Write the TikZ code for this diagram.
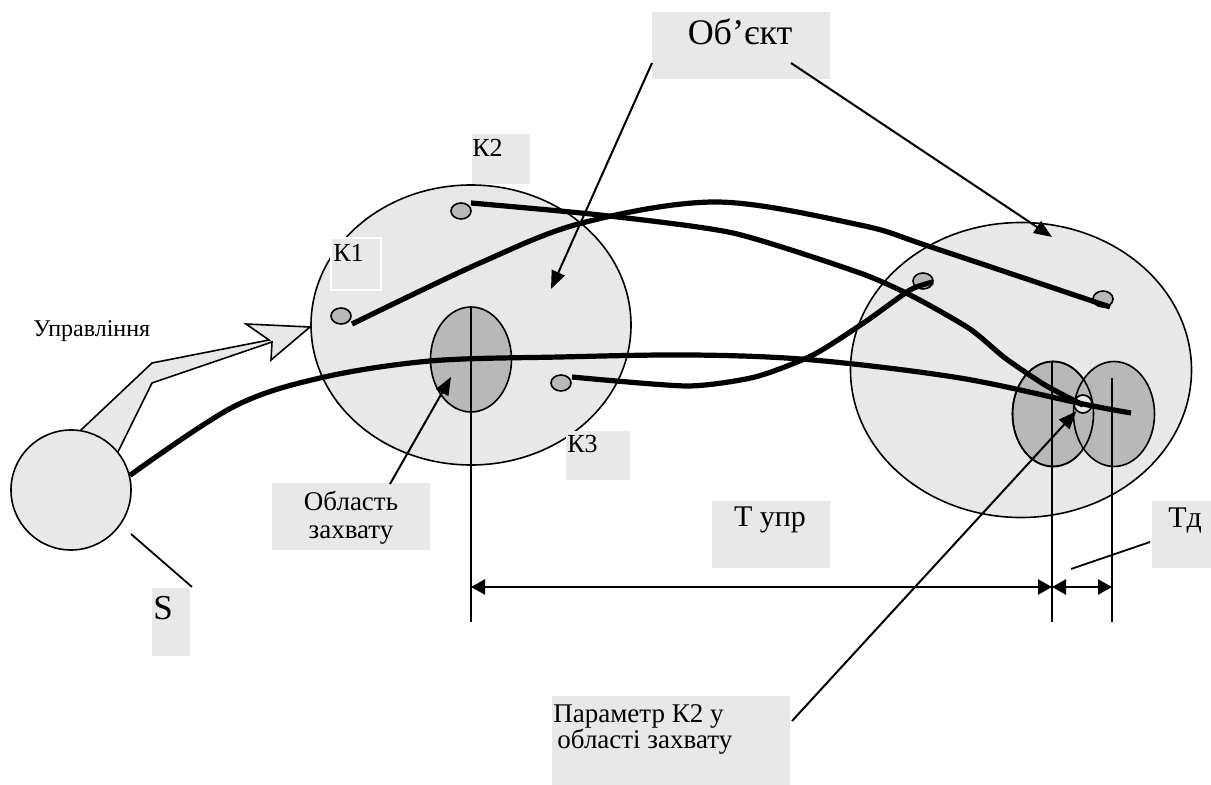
\documentclass[tikz,border=0pt]{standalone}
\usepackage{fontspec}
\setmainfont{Liberation Serif}
\newfontfamily\lserif{Liberation Serif}
\usetikzlibrary{shapes.geometric,arrows.meta}
\definecolor{pale}{HTML}{E8E8E8}
\definecolor{mid}{HTML}{B8B8B8}
\newcommand{\fsz}[1]{\lserif\fontsize{#1}{1.05\dimexpr#1\relax}\selectfont}
\begin{document}
\begin{tikzpicture}[x=0.5pt,y=-0.5pt,
  oval/.style={ellipse,draw,line width=0.8pt,inner sep=0pt},
  region/.style={oval,fill=pale},
  capture/.style={oval,fill=mid,minimum width=40.5pt,minimum height=52.5pt},
  dot/.style={oval,fill=mid,minimum width=10pt,minimum height=8pt},
  track/.style={line width=2.6pt},
  pointer/.style={line width=1pt,-{Triangle[length=9pt,width=7pt]}},
  leader/.style={line width=0.9pt},
  dim/.style={line width=1.2pt,{Triangle[length=7pt,width=7.5pt]}-{Triangle[length=7pt,width=7.5pt]}},
  tag/.style={fill=pale},
  txt/.style={inner sep=0pt}
]
\useasboundingbox (0,0) rectangle (1211,785);

% control input: hollow arrow from the source to the first state
\filldraw[fill=pale,line width=0.8pt]
  (63,447) -- (152,363) -- (269,340) -- (246,324) -- (310,327)
  -- (271,360) -- (272,342) -- (152,383) -- (113,462);

% source
\node[region,circle,minimum size=60pt] (src) at (71,490) {};

% the two states of the object
\node[region,minimum width=160pt,minimum height=140pt] (left) at (471,325) {};
\node[region,minimum width=170.5pt,minimum height=147.5pt] (right) at (1021,370) {};

% capture regions
\node[capture] (capL) at (471,359.5) {};
\node[capture] (capR1) at (1053,414) {};
\node[capture] (capR2) at (1114,414) {};
\draw[oval] (1053,414) ellipse [x radius=40.5,y radius=52.5];

% parameter points
\node[dot] (k2a) at (461,211) {};
\node[dot] (k1a) at (341,316) {};
\node[dot] (k3a) at (561,383) {};
\node[dot] (k3b) at (923,281) {};
\node[dot] (k1b) at (1103,299) {};
\node[oval,fill=pale,circle,minimum size=9pt] (k2b) at (1083,404) {};

% time marks
\coordinate (m0) at (471,622);
\coordinate (m1) at (1052,622);
\coordinate (m2) at (1112,622);
\draw[leader] (capL.north) -- (m0);
\draw[leader] (1052,361) -- (m1);
\draw[leader] (1112,378) -- (m2);
\draw[dim] (471,587) -- (1052,587);
\draw[dim] (1052,587) -- (1112,587);

% trajectories
\coordinate (send) at (1131,413);
\draw[track] plot[smooth,tension=0.55] coordinates
  {(src.14) (233,407) (320,378) (430,361) (560,357) (693,355) (813,360) (960,378) (1083,404) (send)};
\draw[track] plot[smooth,tension=0.55] coordinates
  {(352,324) (480,263) (582,223) (717,202) (860,225) (931,247) (1110,307)};
\draw[track] plot[smooth,tension=0.4] coordinates
  {(471,203) (600,215) (733,233) (860,273) (914,297) (970,329) (1005,358) (1045,385) (1083,405)};
\draw[track] plot[smooth,tension=0.4] coordinates
  {(572,377) (687,386) (755,377) (813,355) (865,322) (910,290) (933,282)};

% label backgrounds
\path[tag] (652,12) rectangle (830,79);
\path[tag] (472,134) rectangle (530,184);
\path[tag,draw=white,line width=1pt] (331,238) rectangle (381,290);
\path[tag] (566,431) rectangle (630,480);
\path[tag] (272,483) rectangle (430,550);
\path[tag] (712,501) rectangle (830,568);
\path[tag] (1152,501) rectangle (1211,568);
\path[tag] (152,588) rectangle (190,656);
\path[tag] (552,696) rectangle (790,785);

% labels
\node[txt,anchor=base,font=\fsz{18pt}] (obj) at (740,45) {Об’єкт};
\node[txt,anchor=base west,font=\fsz{13pt}] (k2t) at (472,157) {К2};
\node[txt,anchor=base west,font=\fsz{13pt}] (k1t) at (333,262) {К1};
\node[txt,anchor=base west,font=\fsz{13pt}] (k3t) at (567,453) {К3};
\node[txt,anchor=base west,font=\fsz{12pt}] (ctl) at (33,337) {Управління};
\node[txt,anchor=north,align=center,font=\lserif\fontsize{13.5pt}{14pt}\selectfont] (capt) at (351,491) {Область\\захвату};
\node[txt,anchor=base,font=\fsz{15pt}] (tupr) at (770,527) {Т упр};
\node[txt,anchor=base west,font=\fsz{15pt}] (td) at (1168,528) {Тд};
\node[txt,anchor=base west,font=\fsz{17.5pt}] (st) at (153,620) {S};
\node[txt,anchor=north west,align=left,font=\lserif\fontsize{13.5pt}{13pt}\selectfont] (part) at (553,704)
  {Параметр К2 у\\\hspace{2pt}області захвату};

% pointers and leaders
\coordinate (objA) at (652,63);
\coordinate (objB) at (791,63);
\coordinate (capA) at (390,484);
\coordinate (parA) at (792,721);
\coordinate (objAt) at (551,289);
\coordinate (objBt) at (1052,237);
\coordinate (capAt) at (451,377);
\draw[pointer] (objA) -- (objAt);
\draw[pointer] (objB) -- (objBt);
\draw[pointer] (capA) -- (capAt);
\draw[pointer] (parA) -- (k2b);
\coordinate (sA) at (131,534);
\coordinate (sB) at (192,587);
\draw[leader] (sA) -- (sB);
\coordinate (tdA) at (1071,569);
\coordinate (tdB) at (1150,542);
\draw[leader] (tdA) -- (tdB);
\end{tikzpicture}
\end{document}
